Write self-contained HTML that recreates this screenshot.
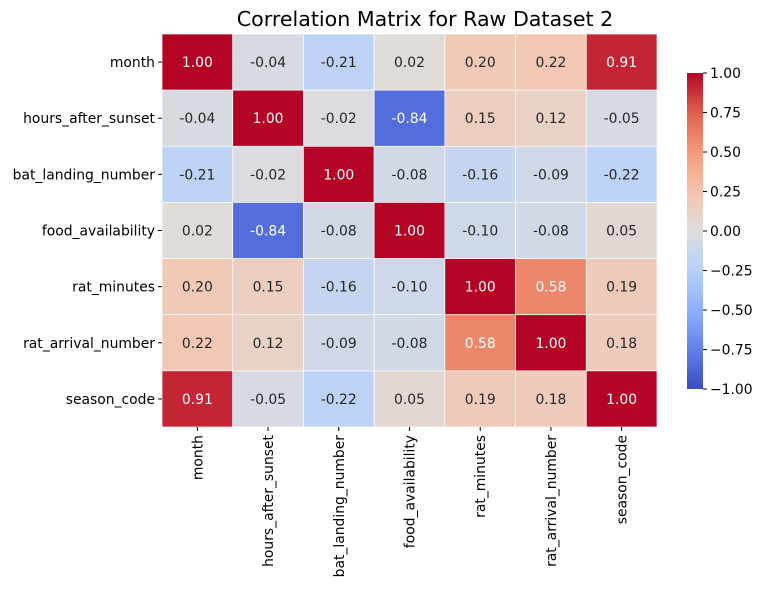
<!DOCTYPE html>
<html><head><meta charset="utf-8"><style>
body{margin:0;background:#fff;}
svg text{font-family:"DejaVu Sans","Liberation Sans",sans-serif;}
</style></head><body>
<svg id="chart" width="765" height="590">
<text x="425" y="26" font-size="20.6" text-anchor="middle" fill="#000">Correlation Matrix for Raw Dataset 2</text>
<g id="cells"></g><g id="ylab"></g><g id="xlab"></g>
<defs><linearGradient id="cbg" x1="0" y1="1" x2="0" y2="0"></linearGradient></defs>
<rect x="687" y="73" width="16" height="316" fill="url(#cbg)"/>
<g id="cbticks"></g>
</svg>
<script>
const labels=["month","hours_after_sunset","bat_landing_number","food_availability","rat_minutes","rat_arrival_number","season_code"];
const row0=[1.00,-0.04,-0.21,0.02,0.20,0.22,0.91];
const row1=[-0.04,1.00,-0.02,-0.84,0.15,0.12,-0.05];
const row2=[-0.21,-0.02,1.00,-0.08,-0.16,-0.09,-0.22];
const row3=[0.02,-0.84,-0.08,1.00,-0.10,-0.08,0.05];
const row4=[0.20,0.15,-0.16,-0.10,1.00,0.58,0.19];
const row5=[0.22,0.12,-0.09,-0.08,0.58,1.00,0.18];
const row6=[0.91,-0.05,-0.22,0.05,0.19,0.18,1.00];
const matrix=[row0,row1,row2,row3,row4,row5,row6];
const cbTicks=[-1.00,-0.75,-0.50,-0.25,0.00,0.25,0.50,0.75,1.00];
const NS="http://www.w3.org/2000/svg";
const FS=13.9;
const X0=162,X1=657,Y0=34,Y1=427,n=labels.length,cw=(X1-X0)/n,ch=(Y1-Y0)/n;
const stops=[[59,76,192],[97,128,233],[141,176,254],[184,208,249],[221,221,221],[245,196,173],[244,154,123],[222,96,77],[180,4,38]];
function cmap(v){let t=(v+1)/2*8;t=Math.max(0,Math.min(8,t));const i=Math.min(7,Math.floor(t)),f=t-i;
const c=stops[i].map((a,k)=>Math.round(a+(stops[i+1][k]-a)*f));return `rgb(${c.join(',')})`;}
function mk(tag,attrs,parent){const e=document.createElementNS(NS,tag);for(const k in attrs)e.setAttribute(k,attrs[k]);parent.appendChild(e);return e;}
const cells=document.getElementById('cells');
matrix.forEach((row,r)=>row.forEach((v,c)=>{
 const rc=mk('rect',{x:X0+c*cw,y:Y0+r*ch,width:cw,height:ch,fill:cmap(v),stroke:'#fff','stroke-width':0.7},cells);
 
 
 const t=mk('text',{x:X0+(c+.5)*cw,y:Y0+(r+.5)*ch+5,'font-size':FS,'text-anchor':'middle',fill:Math.abs(v)>0.5?'#fff':'#262626'},cells);
 t.textContent=v.toFixed(2);
 
 
}));
const yl=document.getElementById('ylab'),xl=document.getElementById('xlab');
labels.forEach((l,i)=>{
 const y=Y0+(i+.5)*ch;
 mk('line',{x1:X0-4,x2:X0,y1:y,y2:y,stroke:'#000'},yl);
 const t=mk('text',{x:X0-7,y:y+5,'font-size':FS,'text-anchor':'end'},yl);t.textContent=l;
 
 
 const x=X0+(i+.5)*cw;
 mk('line',{x1:x,x2:x,y1:Y1,y2:Y1+4,stroke:'#000'},xl);
 const u=mk('text',{x:x+5,y:Y1+8,'font-size':FS,'text-anchor':'end',transform:`rotate(-90 ${x+5} ${Y1+8})`},xl);u.textContent=l;
 
 
});
const g=document.getElementById('cbg');
for(let i=0;i<=20;i++){const v=-1+i/10;mk('stop',{offset:(i/20*100)+'%','stop-color':cmap(v)},g);}
const cbt=document.getElementById('cbticks');
cbTicks.forEach(v=>{const y=389-(v+1)/2*316;
 mk('line',{x1:703,x2:707,y1:y,y2:y,stroke:'#000'},cbt);
 const t=mk('text',{x:710,y:y+5,'font-size':FS},cbt);t.textContent=(v<0?'\u2212':'')+Math.abs(v).toFixed(2);
 
 
});
</script>
</body></html>
